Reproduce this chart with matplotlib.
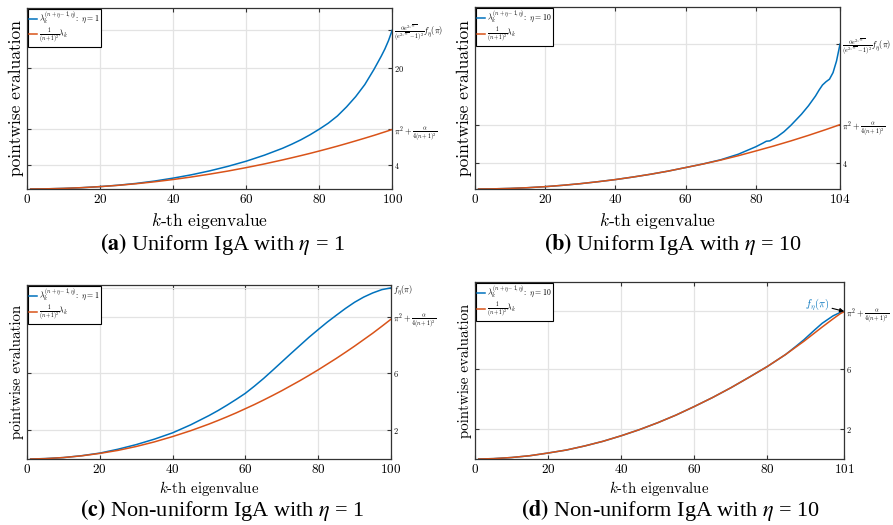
import matplotlib.pyplot as plt

plt.rcParams['mathtext.fontset'] = 'cm'
plt.rcParams['font.family'] = 'serif'
plt.rcParams['font.serif'] = ['cmr10', 'DejaVu Serif']
plt.rcParams['axes.formatter.use_mathtext'] = True

BLUE = '#0072BD'
ORANGE = '#D95319'

# (a) uniform IgA, eta = 1
k_a = [1, 5, 10, 15, 20, 25, 30, 35, 40, 45, 50, 55, 60, 65, 70, 72.5, 75, 77.5, 80, 82.5,
       85, 87.5, 90, 92.5, 95, 96, 97, 98, 99, 100]
a_blue = [0.0, 0.02, 0.1, 0.22, 0.4, 0.63, 0.93, 1.32, 1.8, 2.35, 3.0, 3.75, 4.6, 5.6, 6.75,
          7.42, 8.15, 8.98, 9.9, 10.9, 12.1, 13.6, 15.3, 17.3, 19.8, 20.9, 22.0, 23.2, 24.6, 26.3]
a_orange = [0.0, 0.025, 0.1, 0.22, 0.39, 0.61, 0.88, 1.2, 1.57, 1.99, 2.46, 2.97, 3.54, 4.15,
            4.82, 5.17, 5.53, 5.9, 6.29, 6.69, 7.1, 7.53, 7.97, 8.42, 8.88, 9.07, 9.27, 9.46,
            9.66, 9.85]

# (b) uniform IgA, eta = 10
k_b_orange = [1, 5, 10, 15, 20, 25, 30, 35, 40, 45, 50, 55, 60, 65, 70, 75, 80, 85, 90, 95, 100, 104]
b_orange = [0.0, 0.02, 0.09, 0.2, 0.36, 0.57, 0.82, 1.12, 1.45, 1.84, 2.27, 2.75, 3.3, 3.85,
            4.45, 5.12, 5.85, 6.6, 7.4, 8.25, 9.15, 9.9]
k_b_blue = [1, 5, 10, 15, 20, 25, 30, 35, 40, 45, 50, 55, 60, 65, 70, 75, 80, 82, 83, 84, 86,
            88, 90, 93, 95, 97, 98, 99, 100, 101, 102, 103, 104]
b_blue = [0.0, 0.02, 0.09, 0.2, 0.36, 0.57, 0.82, 1.12, 1.45, 1.84, 2.27, 2.75, 3.3, 3.86,
          4.5, 5.35, 6.5, 7.05, 7.35, 7.4, 8.0, 8.8, 9.8, 11.5, 12.8, 14.3, 15.2, 16.0, 16.5,
          16.9, 17.9, 19.7, 22.3]

# (c) non-uniform IgA, eta = 1
k_c = [1, 5, 10, 15, 20, 25, 30, 35, 40, 45, 50, 52.5, 55, 57.5, 60, 62.5, 65, 67.5, 70, 72.5,
       75, 77.5, 80, 82.5, 85, 87.5, 90, 92.5, 95, 97.5, 100]
c_blue = [0.0, 0.03, 0.1, 0.23, 0.41, 0.68, 1.0, 1.38, 1.82, 2.38, 3.02, 3.37, 3.75, 4.15,
          4.57, 5.07, 5.6, 6.17, 6.75, 7.33, 7.9, 8.47, 9.0, 9.52, 10.0, 10.47, 10.9, 11.26,
          11.55, 11.78, 11.9]
c_orange = [0.0, 0.025, 0.1, 0.22, 0.39, 0.6, 0.87, 1.19, 1.56, 1.97, 2.43, 2.68, 2.94, 3.21,
            3.5, 3.79, 4.1, 4.42, 4.75, 5.1, 5.45, 5.82, 6.2, 6.6, 7.0, 7.42, 7.85, 8.3, 8.75,
            9.23, 9.72]

# (d) non-uniform IgA, eta = 10
k_d_orange = [1, 5, 10, 15, 20, 25, 30, 35, 40, 45, 50, 55, 60, 65, 70, 75, 80, 85, 90, 95, 98, 100, 101]
d_orange = [0.0, 0.025, 0.1, 0.22, 0.4, 0.6, 0.87, 1.18, 1.55, 1.96, 2.42, 2.93, 3.5, 4.1,
            4.75, 5.45, 6.17, 6.97, 7.85, 8.8, 9.35, 9.7, 9.82]
k_d_blue = [1, 5, 10, 15, 20, 25, 30, 35, 40, 45, 50, 55, 60, 65, 70, 75, 80, 85, 88, 90, 93, 95, 98, 100, 101]
d_blue = [0.0, 0.025, 0.1, 0.22, 0.4, 0.6, 0.87, 1.18, 1.55, 1.96, 2.42, 2.93, 3.5, 4.1,
          4.75, 5.45, 6.17, 6.97, 7.55, 7.95, 8.62, 9.05, 9.55, 9.78, 9.85]

PI2 = r'$\pi^2+\frac{\alpha}{4(n+1)^2}$'
FETA = r'$f_\eta(\pi)$'
FRAC = r'$\frac{\alpha e^{2\sqrt{\alpha}}}{(e^{2\sqrt{\alpha}}-1)^2}f_\eta(\pi)$'

panels = [
    dict(pos=[0.0302, 0.640, 0.409, 0.345], kb=k_a, yb=a_blue, ko=k_a, yo=a_orange,
         xmax=100, xticks=[0, 20, 40, 60, 80, 100], ymax=30,
         yticks=[4, 9.87, 20, 26.3], ylabels=[r'$4$', PI2, r'$20$', FRAC],
         eta=1, ysize=12.5, xsize=12.5, xpad=3.5,
         cap=r'$\mathbf{(a)}$ Uniform IgA with $\eta$ = 1'),
    dict(pos=[0.532, 0.640, 0.4087, 0.3467], kb=k_b_blue, yb=b_blue, ko=k_b_orange, yo=b_orange,
         xmax=104, xticks=[0, 20, 40, 60, 80, 104], ymax=28,
         yticks=[4, 9.9, 22.3], ylabels=[r'$4$', PI2, FRAC],
         eta=10, ysize=12.5, xsize=12.5, xpad=3.5,
         cap=r'$\mathbf{(b)}$ Uniform IgA with $\eta$ = 10'),
    dict(pos=[0.0302, 0.1257, 0.4076, 0.3314], kb=k_c, yb=c_blue, ko=k_c, yo=c_orange,
         xmax=100, xticks=[0, 20, 40, 60, 80, 100], ymax=12.1,
         yticks=[2, 6, 9.9, 11.9], ylabels=[r'$2$', r'$6$', PI2, FETA],
         eta=1, ysize=10.8, xsize=10.7, xpad=2,
         cap=r'$\mathbf{(c)}$ Non-uniform IgA with $\eta$ = 1'),
    dict(pos=[0.532, 0.1257, 0.4132, 0.337], kb=k_d_blue, yb=d_blue, ko=k_d_orange, yo=d_orange,
         xmax=101, xticks=[0, 20, 40, 60, 80, 101], ymax=11.8,
         yticks=[2, 6, 9.85], ylabels=[r'$2$', r'$6$', PI2],
         eta=10, ysize=10.8, xsize=10.7, xpad=2,
         cap=r'$\mathbf{(d)}$ Non-uniform IgA with $\eta$ = 10'),
]

fig = plt.figure(figsize=(8.93, 5.25), dpi=100)

axes = []
for p in panels:
    ax = fig.add_axes(p['pos'])
    ax.plot(p['kb'], p['yb'], color=BLUE, lw=1.1,
            label=r'$\lambda_k^{(n+\eta-1,\eta)}\!:\ \eta=%d$' % p['eta'])
    ax.plot(p['ko'], p['yo'], color=ORANGE, lw=1.1,
            label=r'$\frac{1}{(n+1)^2}\lambda_k$')
    ax.set_xlim(0, p['xmax'])
    ax.set_ylim(0, p['ymax'])
    ax.set_xticks(p['xticks'], [r'$%d$' % t for t in p['xticks']])
    ax.set_yticks(p['yticks'], p['ylabels'])
    ax.grid(True, color='#e3e3e3', lw=0.9)
    ax.set_axisbelow(True)
    ax.tick_params(axis='x', direction='in', top=True, bottom=True, length=3,
                   labelsize=9.5, pad=3, color='#333333')
    ax.tick_params(axis='y', direction='in', left=True, right=True, length=3,
                   labelleft=False, labelright=True, labelsize=6, pad=1.5, color='#333333')
    for s in ax.spines.values():
        s.set_color('#333333')
        s.set_linewidth(0.9)
    ax.yaxis.set_label_position('left')
    ax.set_ylabel('pointwise evaluation', fontsize=p['ysize'], labelpad=2)
    ax.set_xlabel(r'$k$' + '-th eigenvalue', fontsize=p['xsize'], labelpad=p['xpad'])
    leg = ax.legend(loc='upper left', fontsize=5.6, fancybox=False, edgecolor='black',
                    framealpha=1, borderaxespad=0.1, borderpad=0.15, handlelength=1.0,
                    handletextpad=0.3, labelspacing=0.0)
    leg.get_frame().set_linewidth(0.8)
    axes.append(ax)

# blue endpoint marker in (d)
axes[3].annotate(FETA, xy=(101, 9.85), xytext=(90.3, 10.3), color=BLUE, fontsize=7.5,
                 va='center', annotation_clip=False,
                 arrowprops=dict(arrowstyle='-|>', color='black', lw=0.8,
                                 mutation_scale=6, shrinkA=0, shrinkB=0))

# sub-figure captions
for p, (cx, cy) in zip(panels, [(0.249, 0.535), (0.753, 0.535), (0.249, 0.028), (0.751, 0.028)]):
    fig.text(cx, cy, p['cap'], ha='center', va='center', fontsize=16,
             family='Liberation Serif', math_fontfamily='stix')

fig.savefig('out.png', dpi=100)
